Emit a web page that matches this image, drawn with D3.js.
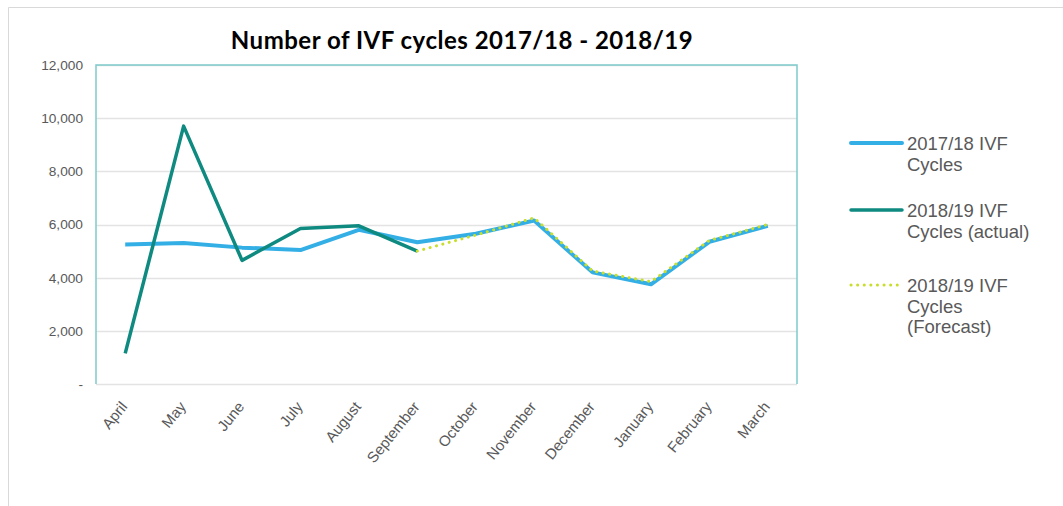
<!DOCTYPE html>
<html>
<head>
<meta charset="utf-8">
<script src="https://cdn.jsdelivr.net/npm/d3@7"></script>
<style>
  body { margin: 0; background: #fff; }
  svg { display: block; }
</style>
</head>
<body>
<div id="chart"></div>
<script>
// Months of the financial year
const months = ["April", "May", "June", "July", "August", "September",
    "October", "November", "December", "January", "February", "March"];

// 2017/18 IVF cycles
const cycles1718 = [5250, 5300, 5130, 5040, 5800, 5330, 5650, 6150, 4200, 3750, 5350, 5950];

// 2018/19 actual (April - September)
const actual1819 = [1150, 9700, 4650, 5850, 5950, 5000];

// 2018/19 forecast (September - March)
const forecastMonths = ["September", "October", "November", "December", "January", "February", "March"];
const forecast1819 = [5000, 5600, 6250, 4250, 3850, 5400, 6000];

const yTicks = [0, 2000, 4000, 6000, 8000, 10000, 12000];

const width = 1063, height = 506;
const margin = { top: 65, right: 266, bottom: 122, left: 96 };
const innerW = width - margin.left - margin.right;
const innerH = height - margin.top - margin.bottom;

const svg = d3.select("#chart")
    .append("svg")
    .attr("width", width)
    .attr("height", height);

// outer chart frame
svg.append("path")
    .attr("d", `M8.5,${height} V7.5 H${width}`)
    .attr("fill", "none")
    .attr("stroke", "#d9d9d9");

// Title
svg.append("text")
    .attr("x", 462)
    .attr("y", 49)
    .attr("text-anchor", "middle")
    .style("font-family", "Lato, 'Open Sans', sans-serif")
    .style("font-weight", "bold")
    .style("font-size", "24px")
    .style("letter-spacing", "0.5px")
    .attr("fill", "#000")
    .text("Number of IVF cycles 2017/18 - 2018/19");

const g = svg.append("g")
    .attr("transform", `translate(${margin.left},${margin.top})`);

const x = d3.scaleBand()
    .domain(months)
    .range([0, innerW]);

const y = d3.scaleLinear()
    .domain([0, 12000])
    .range([innerH, 0]);

const cx = m => x(m) + x.bandwidth() / 2;

// gridlines
g.selectAll("line.grid")
    .data(yTicks)
    .enter()
    .append("line")
    .attr("class", "grid")
    .attr("x1", 0)
    .attr("x2", innerW)
    .attr("y1", d => Math.round(y(d)) + 0.5)
    .attr("y2", d => Math.round(y(d)) + 0.5)
    .attr("stroke", "#e3e3e3")
    .attr("stroke-width", 1.5);

// plot area border (teal on top and sides)
g.append("path")
    .attr("d", `M0,${innerH} V0 H${innerW} V${innerH}`)
    .attr("fill", "none")
    .attr("stroke", "#7fcaca")
    .attr("stroke-width", 1.5);

// Y axis labels
const yAxis = g.append("g")
    .call(d3.axisLeft(y)
        .tickValues(yTicks)
        .tickSize(0)
        .tickPadding(13)
        .tickFormat(d => d === 0 ? "-" : d3.format(",")(d)));
yAxis.select(".domain").remove();
yAxis.selectAll("text")
    .style("font-family", "'Liberation Sans', Arial, sans-serif")
    .style("font-size", "13.7px")
    .attr("fill", "#595959");

// X axis labels
const xAxis = g.append("g")
    .attr("transform", `translate(0,${innerH})`)
    .call(d3.axisBottom(x).tickSize(0).tickPadding(0));
xAxis.select(".domain").remove();
xAxis.selectAll("text")
    .attr("text-anchor", "end")
    .attr("dy", 0)
    .attr("y", 0)
    .attr("transform", "translate(3,23) rotate(-51)")
    .style("font-family", "'Liberation Sans', Arial, sans-serif")
    .style("font-size", "15px")
    .attr("fill", "#595959");

const line = d3.line()
    .x(d => cx(d.m))
    .y(d => y(d.v));

// 2017/18
g.append("path")
    .datum(months.map((m, i) => ({ m, v: cycles1718[i] })))
    .attr("d", line)
    .attr("fill", "none")
    .attr("stroke", "#33afe6")
    .attr("stroke-width", 4)
    .attr("stroke-linejoin", "round");

// 2018/19 actual
g.append("path")
    .datum(actual1819.map((v, i) => ({ m: months[i], v })))
    .attr("d", line)
    .attr("fill", "none")
    .attr("stroke", "#0f8a80")
    .attr("stroke-width", 3.5)
    .attr("stroke-linejoin", "round");

// 2018/19 forecast
g.append("path")
    .datum(forecastMonths.map((m, i) => ({ m, v: forecast1819[i] })))
    .attr("d", line)
    .attr("fill", "none")
    .attr("stroke", "#c9de2a")
    .attr("stroke-width", 3)
    .attr("stroke-linecap", "round")
    .attr("stroke-dasharray", "0.1 6.5");

// Legend
const legendData = [
    { lines: ["2017/18 IVF", "Cycles"], color: "#33afe6", w: 4, dash: null, y: 143 },
    { lines: ["2018/19 IVF", "Cycles (actual)"], color: "#0f8a80", w: 3.5, dash: null, y: 210 },
    { lines: ["2018/19 IVF", "Cycles", "(Forecast)"], color: "#c9de2a", w: 3, dash: "0.1 6.5", y: 285 }
];

const legend = svg.append("g").attr("class", "legend");

legendData.forEach(d => {
    legend.append("line")
        .attr("x1", 851)
        .attr("x2", 902)
        .attr("y1", d.y)
        .attr("y2", d.y)
        .attr("stroke", d.color)
        .attr("stroke-width", d.w)
        .attr("stroke-linecap", "round")
        .attr("stroke-dasharray", d.dash);

    const t = legend.append("text")
        .attr("x", 907)
        .attr("y", d.y + 7)
        .style("font-family", "'Liberation Sans', Arial, sans-serif")
        .style("font-size", "18.5px")
        .attr("fill", "#595959");
    d.lines.forEach((s, i) => {
        t.append("tspan")
            .attr("x", 907)
            .attr("dy", i === 0 ? 0 : 20.5)
            .text(s);
    });
});
</script>
</body>
</html>
